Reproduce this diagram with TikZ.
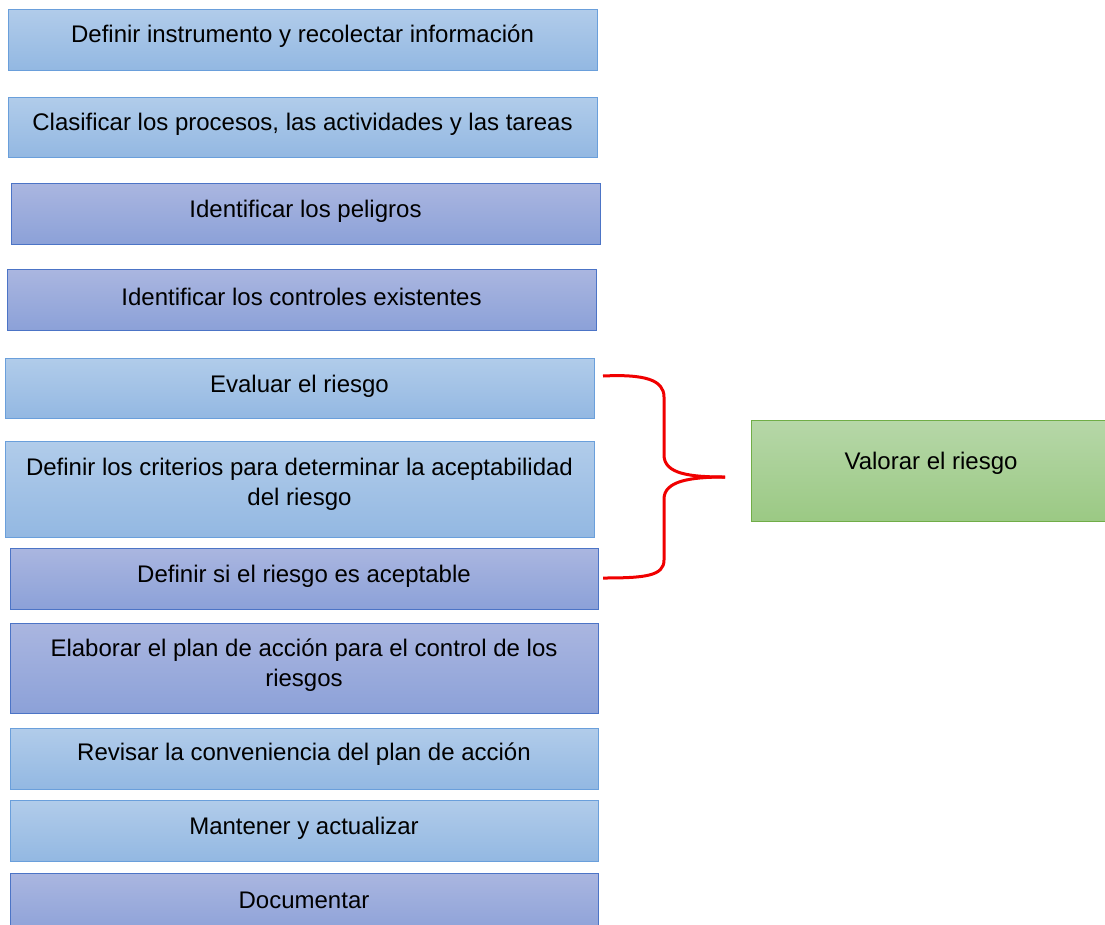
\documentclass[tikz,border=0pt]{standalone}
\usepackage{fontspec}
\setmainfont{Liberation Sans}
\usetikzlibrary{shadings}
\definecolor{bluetop}{HTML}{B1CCEA}
\definecolor{bluebot}{HTML}{93B8E2}
\definecolor{blueedge}{HTML}{6A9FDB}
\definecolor{purtop}{HTML}{AAB6E0}
\definecolor{purbot}{HTML}{8CA1D8}
\definecolor{puredge}{HTML}{4C74C6}
\definecolor{grtop}{HTML}{B6D7A8}
\definecolor{grbot}{HTML}{9BC984}
\definecolor{gredge}{HTML}{70AD47}
\definecolor{bracered}{HTML}{F00000}
\tikzset{
  box/.style={draw, line width=1pt, rectangle, inner sep=0pt},
  bluebox/.style={box, draw=blueedge, top color=bluetop, bottom color=bluebot},
  purbox/.style={box, draw=puredge, top color=purtop, bottom color=purbot},
  greenbox/.style={box, draw=gredge, top color=grtop, bottom color=grbot},
  lbl/.style={font=\fontsize{24}{30}\selectfont, align=center, text=black, inner sep=0pt},
  brace/.style={draw=bracered, line width=3pt}
}
\begin{document}
\begin{tikzpicture}[x=1pt,y=-1pt]
\useasboundingbox (0,0) rectangle (1105,924);
% boxes
\node[bluebox, minimum width=589pt, minimum height=61pt] (b1) at (302.5,39.5) {};
\node[bluebox, minimum width=589pt, minimum height=60pt] (b2) at (302.5,127) {};
\node[purbox, minimum width=589pt, minimum height=61pt] (b3) at (305.5,213.5) {};
\node[purbox, minimum width=589pt, minimum height=61pt] (b4) at (301.5,299.5) {};
\node[bluebox, minimum width=589pt, minimum height=60pt] (b5) at (299.5,388) {};
\node[bluebox, minimum width=589pt, minimum height=96pt] (b6) at (299.5,489) {};
\node[purbox, minimum width=588pt, minimum height=61pt] (b7) at (304,578.5) {};
\node[purbox, minimum width=588pt, minimum height=90pt] (b8) at (304,668) {};
\node[bluebox, minimum width=588pt, minimum height=61pt] (b9) at (304,758.5) {};
\node[bluebox, minimum width=588pt, minimum height=61pt] (b10) at (304,830.5) {};
\node[purbox, minimum width=588pt, minimum height=62pt] (b11) at (304,904) {};
\node[greenbox, minimum width=360pt, minimum height=101pt] (g) at (931,470.5) {};
% labels
\node[lbl] (t1) at (302.5,36) {Definir instrumento y recolectar información};
\node[lbl] (t2) at (302.5,124) {Clasificar los procesos, las actividades y las tareas};
\node[lbl] (t3) at (305.5,211) {Identificar los peligros};
\node[lbl] (t4) at (301.5,297) {Identificar los controles existentes};
\node[lbl] (t5) at (299.5,386) {Evaluar el riesgo};
\node[lbl] (t6) at (299.5,484) {Definir los criterios para determinar la aceptabilidad\\del riesgo};
\node[lbl] (t7) at (304,576) {Definir si el riesgo es aceptable};
\node[lbl] (t8) at (304,665) {Elaborar el plan de acción para el control de los\\riesgos};
\node[lbl] (t9) at (304,754) {Revisar la conveniencia del plan de acción};
\node[lbl] (t10) at (304,828) {Mantener y actualizar};
\node[lbl] (t11) at (304,900) {Documentar};
\node[lbl] (tg) at (931,463) {Valorar el riesgo};
% brace
\coordinate (bt) at (603,376);
\coordinate (bb) at (603,578);
\coordinate (tip) at (725,477);
\draw[brace] (bt) .. controls (645,374) and (664,380) .. (664,397)
  -- (664,455) .. controls (664,474) and (690,477) .. (tip);
\draw[brace] (tip) .. controls (690,477) and (664,481) .. (664,499)
  -- (664,560) .. controls (664,576) and (645,578) .. (bb);
\end{tikzpicture}
\end{document}
